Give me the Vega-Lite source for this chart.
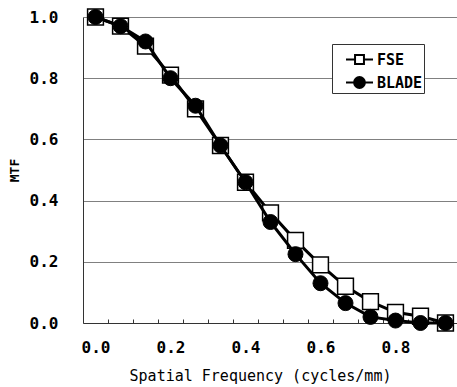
{
  "$schema": "https://vega.github.io/schema/vega-lite/v6.json",
  "width": 375,
  "height": 306,
  "autosize": {"type": "none"},
  "padding": {"left": 83, "top": 17, "right": 0, "bottom": 64},
  "background": "white",
  "config": {
    "view": {"stroke": null},
    "legend": {
      "orient": "none",
      "legendX": 249,
      "legendY": 27,
      "padding": 1,
      "strokeColor": "#333333",
      "fillColor": "white",
      "symbolSize": 729,
      "symbolOffset": 12,
      "symbolStrokeWidth": 2,
      "rowPadding": 0,
      "labelFont": "DejaVu Sans Mono",
      "labelFontSize": 15,
      "labelFontWeight": "bold",
      "labelColor": "black",
      "labelOffset": 3
    }
  },
  "data": {
    "values": [
      {"freq": 0.0, "mtf": 1.0, "series": "FSE"},
      {"freq": 0.0667, "mtf": 0.97, "series": "FSE"},
      {"freq": 0.1333, "mtf": 0.905, "series": "FSE"},
      {"freq": 0.2, "mtf": 0.81, "series": "FSE"},
      {"freq": 0.2667, "mtf": 0.70, "series": "FSE"},
      {"freq": 0.3333, "mtf": 0.58, "series": "FSE"},
      {"freq": 0.4, "mtf": 0.46, "series": "FSE"},
      {"freq": 0.4667, "mtf": 0.36, "series": "FSE"},
      {"freq": 0.5333, "mtf": 0.27, "series": "FSE"},
      {"freq": 0.6, "mtf": 0.19, "series": "FSE"},
      {"freq": 0.6667, "mtf": 0.12, "series": "FSE"},
      {"freq": 0.7333, "mtf": 0.07, "series": "FSE"},
      {"freq": 0.8, "mtf": 0.035, "series": "FSE"},
      {"freq": 0.8667, "mtf": 0.022, "series": "FSE"},
      {"freq": 0.9333, "mtf": 0.0, "series": "FSE"},
      {"freq": 0.0, "mtf": 1.0, "series": "BLADE"},
      {"freq": 0.0667, "mtf": 0.97, "series": "BLADE"},
      {"freq": 0.1333, "mtf": 0.92, "series": "BLADE"},
      {"freq": 0.2, "mtf": 0.80, "series": "BLADE"},
      {"freq": 0.2667, "mtf": 0.71, "series": "BLADE"},
      {"freq": 0.3333, "mtf": 0.58, "series": "BLADE"},
      {"freq": 0.4, "mtf": 0.46, "series": "BLADE"},
      {"freq": 0.4667, "mtf": 0.33, "series": "BLADE"},
      {"freq": 0.5333, "mtf": 0.225, "series": "BLADE"},
      {"freq": 0.6, "mtf": 0.13, "series": "BLADE"},
      {"freq": 0.6667, "mtf": 0.065, "series": "BLADE"},
      {"freq": 0.7333, "mtf": 0.02, "series": "BLADE"},
      {"freq": 0.8, "mtf": 0.008, "series": "BLADE"},
      {"freq": 0.8667, "mtf": 0.0, "series": "BLADE"},
      {"freq": 0.9333, "mtf": 0.0, "series": "BLADE"}
    ]
  },
  "encoding": {
    "x": {
      "field": "freq",
      "type": "quantitative",
      "scale": {"domain": [-0.03333, 0.96667], "nice": false, "zero": false},
      "axis": {
        "title": "Spatial Frequency (cycles/mm)",
        "values": [0, 0.0667, 0.1333, 0.2, 0.2667, 0.3333, 0.4, 0.4667, 0.5333, 0.6, 0.6667, 0.7333, 0.8, 0.8667],
        "labelExpr": "round(datum.value*15) % 3 === 0 ? format(datum.value, '.1f') : ''",
        "tickOffset": 12.5,
        "labelOffset": -12.5,
        "tickSize": -4,
        "tickColor": "#333333",
        "domainColor": "#333333",
        "grid": false,
        "labelFont": "DejaVu Sans Mono",
        "labelFontSize": 16,
        "labelFontWeight": "bold",
        "labelColor": "black",
        "labelPadding": 20,
        "labelFlush": false,
        "labelOverlap": false,
        "titleFont": "DejaVu Sans Mono",
        "titleFontSize": 15,
        "titleFontWeight": "normal",
        "titleColor": "black",
        "titleX": 177,
        "titleY": 52,
        "titleBaseline": "middle",
        "titleAlign": "center"
      }
    },
    "y": {
      "field": "mtf",
      "type": "quantitative",
      "scale": {"domain": [0, 1], "nice": false},
      "axis": {
        "title": "MTF",
        "values": [0, 0.2, 0.4, 0.6, 0.8, 1.0],
        "format": ".1f",
        "ticks": false,
        "grid": true,
        "gridColor": "#808080",
        "gridWidth": 1,
        "domainColor": "#333333",
        "labelFont": "DejaVu Sans Mono",
        "labelFontSize": 16,
        "labelFontWeight": "bold",
        "labelColor": "black",
        "labelPadding": 25,
        "labelBaseline": "middle",
        "titleFont": "DejaVu Sans Mono",
        "titleFontSize": 13,
        "titleFontWeight": "bold",
        "titleColor": "black",
        "titleAngle": -90,
        "titleX": -69,
        "titleY": 153,
        "titleAlign": "center",
        "titleBaseline": "middle"
      }
    }
  },
  "layer": [
    {
      "mark": {"type": "point", "filled": true, "stroke": "black", "strokeWidth": 2, "size": 0, "opacity": 1},
      "encoding": {
        "shape": {
          "field": "series",
          "type": "nominal",
          "title": null,
          "scale": {"domain": ["FSE", "BLADE"], "range": ["M-1,0H-0.33M0.33,0H1M-0.33,-0.33H0.33V0.33H-0.33Z", "M-1,0H1M0.4,0A0.4,0.4 0 1,1 -0.4,0A0.4,0.4 0 1,1 0.4,0Z"]}
        },
        "fill": {
          "field": "series",
          "type": "nominal",
          "title": null,
          "scale": {"domain": ["FSE", "BLADE"], "range": ["white", "black"]}
        }
      }
    },
    {
      "transform": [{"filter": "datum.series === 'FSE'"}],
      "mark": {"type": "line", "color": "black", "strokeWidth": 3}
    },
    {
      "transform": [{"filter": "datum.series === 'FSE'"}],
      "mark": {"type": "point", "shape": "square", "filled": true, "fill": "white", "stroke": "black", "strokeWidth": 1.5, "size": 250, "opacity": 1}
    },
    {
      "transform": [{"filter": "datum.series === 'BLADE'"}],
      "mark": {"type": "line", "color": "black", "strokeWidth": 3}
    },
    {
      "transform": [{"filter": "datum.series === 'BLADE'"}],
      "mark": {"type": "point", "shape": "circle", "filled": true, "fill": "black", "stroke": "black", "strokeWidth": 1, "size": 225, "opacity": 1}
    }
  ]
}
